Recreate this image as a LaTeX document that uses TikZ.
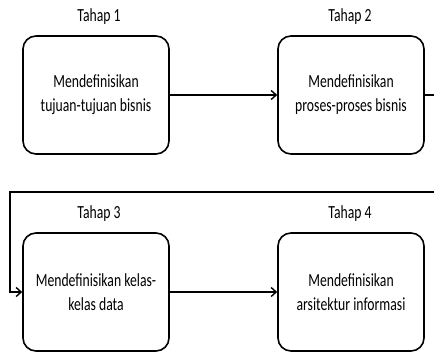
\documentclass[tikz,border=0pt]{standalone}
\usepackage{fontspec}
\setmainfont{Carlito}[FakeStretch=0.74]
\usetikzlibrary{arrows.meta}
\begin{document}
\begin{tikzpicture}[x=1pt,y=-1pt,
  stagebox/.style={draw=black,line width=1.6pt,rounded corners=13pt,minimum width=146pt,minimum height=118pt,align=center,inner sep=0pt,font=\fontsize{18.5}{24}\selectfont},
  stagelabel/.style={font=\fontsize{18.5}{20}\selectfont,inner sep=0pt},
  conn/.style={line width=1.6pt,-{Straight Barb[length=5pt,width=9pt,line width=1.4pt]}}]
\useasboundingbox (0,0) rectangle (434,354);
\node[stagebox] (b1) at (96,95) {Mendefinisikan\\tujuan-tujuan bisnis};
\node[stagebox] (b2) at (351,95) {Mendefinisikan\\proses-proses bisnis};
\node[stagebox] (b3) at (96,292) {Mendefinisikan kelas-\\kelas data};
\node[stagebox] (b4) at (351,292) {Mendefinisikan\\arsitektur informasi};
\node[stagelabel] (t1) at (99,17) {Tahap 1};
\node[stagelabel] (t2) at (350,17) {Tahap 2};
\node[stagelabel] (t3) at (99,214) {Tahap 3};
\node[stagelabel] (t4) at (350,214) {Tahap 4};
\coordinate (c1) at (442,95);
\coordinate (c2) at (442,192);
\coordinate (c3) at (10,192);
\coordinate (c4) at (10,292);
\draw[conn] (b1.east) -- (b2.west);
\draw[conn] (b3.east) -- (b4.west);
\draw[conn] (b2.east) -- (c1) -- (c2) -- (c3) -- (c4) -- (b3.west);
\end{tikzpicture}
\end{document}
